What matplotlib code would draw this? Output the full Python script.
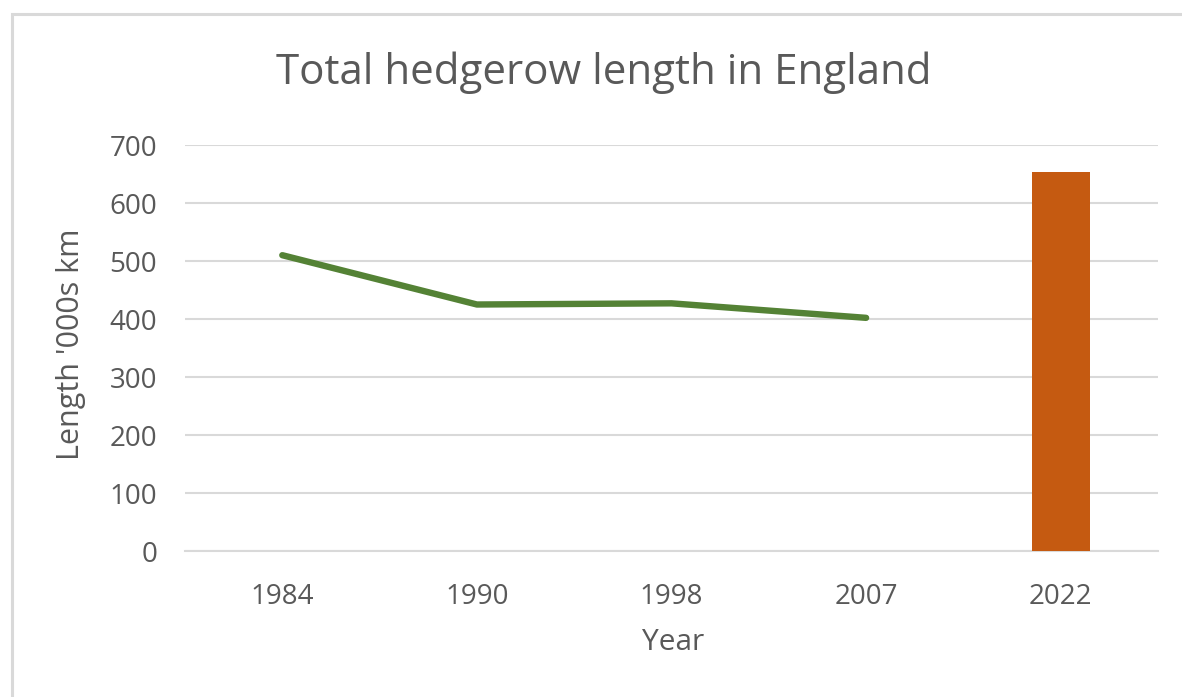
import matplotlib
matplotlib.use("Agg")
import matplotlib.pyplot as plt
import numpy as np
from matplotlib.patches import Rectangle

years = ["1984", "1990", "1998", "2007", "2022"]
line_values = [510, 425, 427, 402, np.nan]
bar_values = [np.nan, np.nan, np.nan, np.nan, 653]
yticks = [0, 100, 200, 300, 400, 500, 600, 700]

title = "Total hedgerow length in England"
xlabel = "Year"
ylabel = "Length '000s km"

W, H = 1182, 697
plt.rcParams['font.family'] = ['Open Sans', 'DejaVu Sans']
fig = plt.figure(figsize=(W / 100, H / 100), dpi=100)
fig.patch.set_facecolor("white")

# outer chart border
fig.patches.append(Rectangle((12 / W, -0.05), 1.2, (H - 14) / H + 0.05,
                             transform=fig.transFigure, fill=False,
                             edgecolor="#d9d9d9", linewidth=2.2))

ax = fig.add_axes([185 / W, 1 - 551 / H, (1158 - 185) / W, (551 - 145) / H])
x = np.arange(len(years))
ax.bar(x, bar_values, width=0.30, color="#C55A11", zorder=3)
ax.plot(x, line_values, color="#548235", linewidth=4.6, solid_capstyle="round",
        solid_joinstyle="round", zorder=4)

ax.set_xlim(-0.5, len(years) - 0.5)
ax.set_ylim(0, 700)
ax.set_yticks(yticks)
ax.set_yticklabels([str(v) for v in yticks])
ax.set_xticks(x)
ax.set_xticklabels(years)
ax.yaxis.grid(True, color="#d9d9d9", linewidth=1.5, zorder=0)
ax.set_axisbelow(True)
for s in ["top", "right", "left"]:
    ax.spines[s].set_visible(False)
ax.spines["bottom"].set_color("#d9d9d9")
ax.spines["bottom"].set_linewidth(1.5)
ax.tick_params(axis="both", length=0, labelsize=20, labelcolor="#595959")
ax.tick_params(axis="y", pad=20)
ax.tick_params(axis="x", pad=23)

fig.text(604 / W, 1 - 73 / H, title, ha="center", va="center", fontsize=30.3,
         color="#595959")
fig.text(673 / W, 1 - 643 / H, xlabel, ha="center", va="center", fontsize=21.5,
         color="#595959")
fig.text(71 / W, 1 - 344 / H, ylabel, ha="center", va="center", fontsize=22,
         color="#595959", rotation=90)

fig.savefig("out.png", dpi=100, facecolor="white")
